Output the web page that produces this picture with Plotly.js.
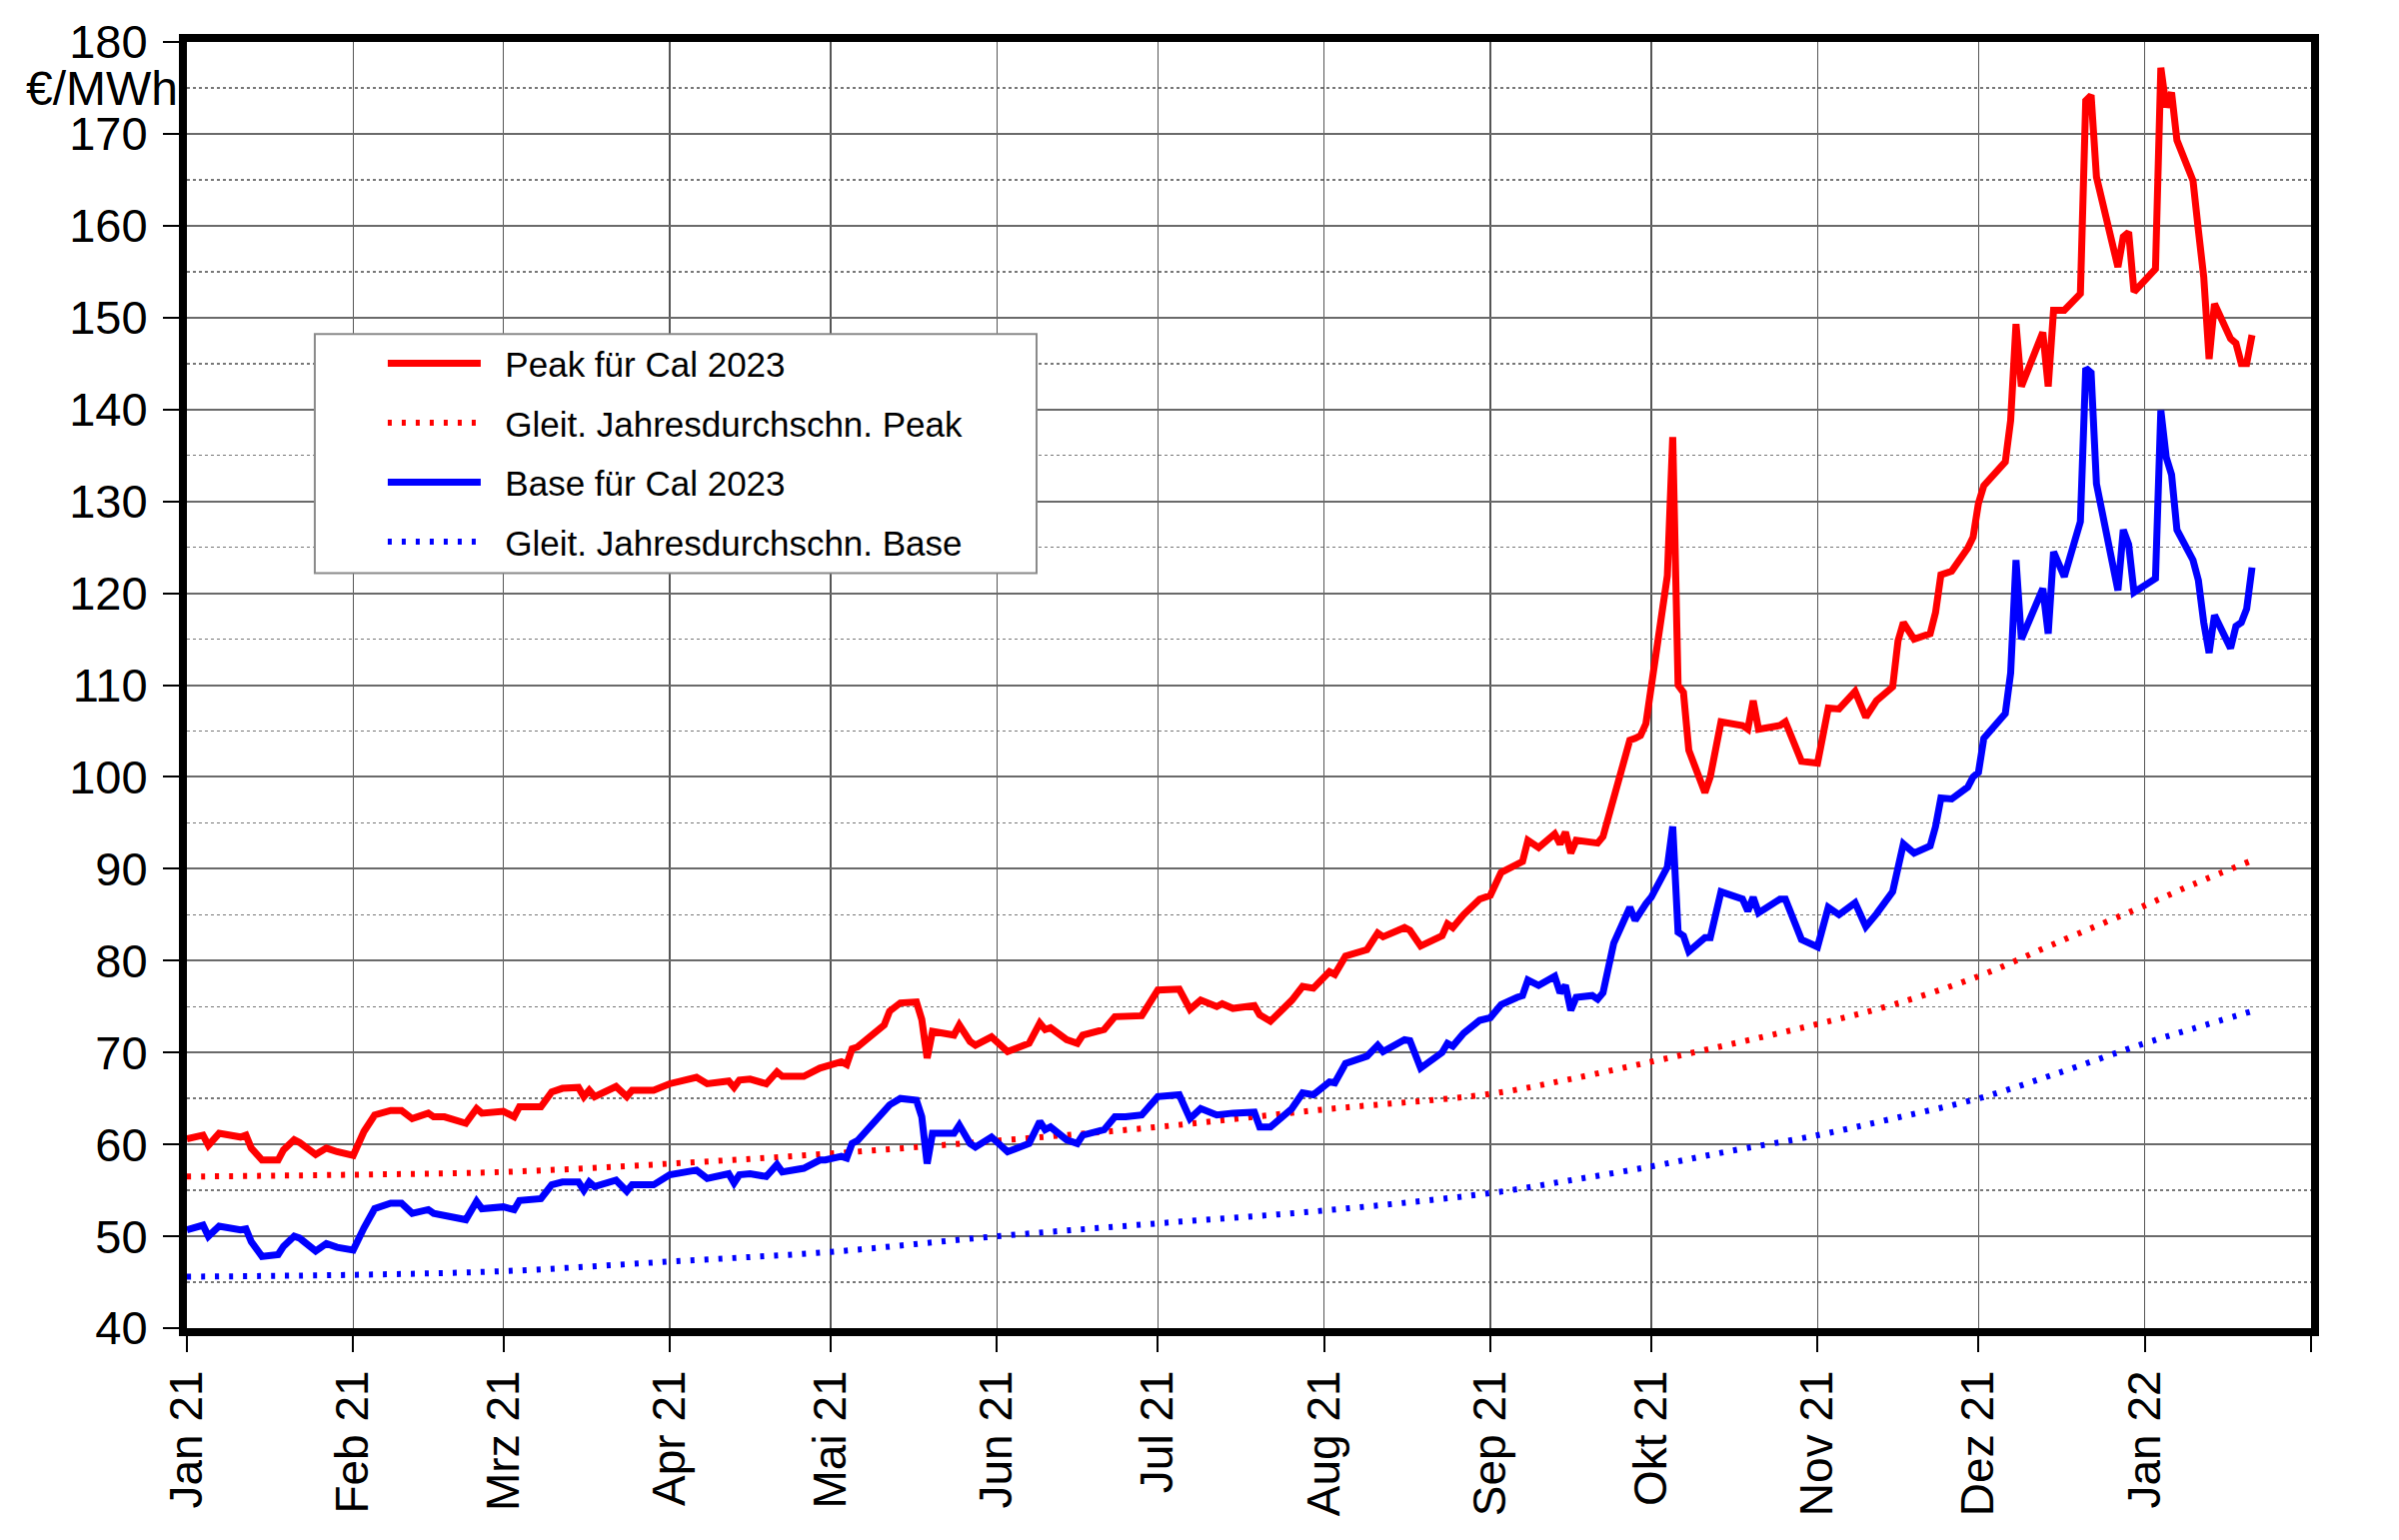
<!DOCTYPE html>
<html>
<head>
<meta charset="utf-8">
<script src="https://cdn.plot.ly/plotly-3.0.1.min.js"></script>
<style>
  html, body { margin: 0; padding: 0; background: #fff; }
  #chart { width: 2400px; height: 1541px; }
</style>
</head>
<body>
<div id="chart"></div>
<script>
// trading days
const dates = [
  '2021-01-01','2021-01-04','2021-01-05','2021-01-07','2021-01-11','2021-01-12','2021-01-13','2021-01-15',
  '2021-01-18','2021-01-19','2021-01-21','2021-01-22','2021-01-25','2021-01-27','2021-01-29','2021-02-01',
  '2021-02-03','2021-02-05','2021-02-08','2021-02-10','2021-02-12','2021-02-15','2021-02-16','2021-02-18',
  '2021-02-22','2021-02-24','2021-02-25','2021-03-01','2021-03-03','2021-03-04','2021-03-08','2021-03-10',
  '2021-03-12','2021-03-15','2021-03-16','2021-03-17','2021-03-18','2021-03-22','2021-03-24','2021-03-25',
  '2021-03-29','2021-04-01','2021-04-06','2021-04-08','2021-04-12','2021-04-13','2021-04-14','2021-04-16',
  '2021-04-19','2021-04-21','2021-04-22','2021-04-26','2021-04-29','2021-04-30','2021-05-03','2021-05-04',
  '2021-05-05','2021-05-06','2021-05-10','2021-05-11','2021-05-12','2021-05-14','2021-05-17','2021-05-18',
  '2021-05-19','2021-05-20','2021-05-24','2021-05-25','2021-05-27','2021-05-28','2021-05-31','2021-06-03',
  '2021-06-07','2021-06-09','2021-06-10','2021-06-11','2021-06-14','2021-06-16','2021-06-17','2021-06-21',
  '2021-06-23','2021-06-25','2021-06-28','2021-07-01','2021-07-05','2021-07-07','2021-07-09','2021-07-12',
  '2021-07-13','2021-07-15','2021-07-19','2021-07-20','2021-07-22','2021-07-26','2021-07-28','2021-07-30',
  '2021-08-02','2021-08-03','2021-08-05','2021-08-09','2021-08-11','2021-08-12','2021-08-16','2021-08-17',
  '2021-08-19','2021-08-23','2021-08-24','2021-08-25','2021-08-27','2021-08-30','2021-09-01','2021-09-03',
  '2021-09-06','2021-09-07','2021-09-08','2021-09-10','2021-09-13','2021-09-14','2021-09-15','2021-09-16',
  '2021-09-17','2021-09-20','2021-09-21','2021-09-22','2021-09-24','2021-09-27','2021-09-28','2021-09-29',
  '2021-09-30','2021-10-01','2021-10-04','2021-10-05','2021-10-06','2021-10-07','2021-10-08','2021-10-11',
  '2021-10-12','2021-10-14','2021-10-18','2021-10-19','2021-10-20','2021-10-21','2021-10-25','2021-10-26',
  '2021-10-29','2021-11-01','2021-11-03','2021-11-05','2021-11-08','2021-11-10','2021-11-12','2021-11-15',
  '2021-11-16','2021-11-17','2021-11-19','2021-11-22','2021-11-23','2021-11-24','2021-11-26','2021-11-29',
  '2021-11-30','2021-12-01','2021-12-02','2021-12-06','2021-12-07','2021-12-08','2021-12-09','2021-12-13',
  '2021-12-14','2021-12-15','2021-12-17','2021-12-20','2021-12-21','2021-12-22','2021-12-23','2021-12-27',
  '2021-12-28','2021-12-29','2021-12-30','2022-01-03','2022-01-04','2022-01-05','2022-01-06','2022-01-07',
  '2022-01-10','2022-01-11','2022-01-12','2022-01-13','2022-01-14','2022-01-17','2022-01-18','2022-01-19',
  '2022-01-20','2022-01-21'
];

const peak = [
  60.6, 61.0, 59.9, 61.2, 60.8, 61.0, 59.6, 58.3,
  58.3, 59.4, 60.5, 60.2, 58.9, 59.6, 59.2, 58.8,
  61.4, 63.2, 63.7, 63.7, 62.8, 63.4, 63.0, 63.0,
  62.3, 63.9, 63.4, 63.6, 63.0, 64.1, 64.1, 65.7,
  66.1, 66.2, 65.2, 65.9, 65.2, 66.3, 65.2, 65.9,
  65.9, 66.6, 67.3, 66.6, 66.9, 66.2, 67.0, 67.1,
  66.6, 67.9, 67.4, 67.4, 68.3, 68.5, 69.0, 68.7,
  70.4, 70.6, 72.7, 73.0, 74.5, 75.4, 75.5, 73.6,
  69.4, 72.3, 71.9, 73.0, 71.2, 70.8, 71.7, 70.1,
  71.0, 73.2, 72.5, 72.7, 71.4, 71.0, 71.9, 72.5,
  73.9, 73.9, 74.0, 76.8, 76.9, 74.7, 75.7, 75.0,
  75.3, 74.8, 75.1, 74.1, 73.4, 75.7, 77.2, 77.0,
  78.8, 78.5, 80.5, 81.2, 83.0, 82.6, 83.6, 83.3,
  81.6, 82.7, 84.0, 83.6, 85.0, 86.7, 87.1, 89.6,
  90.6, 90.8, 93.1, 92.3, 93.8, 92.7, 94.0, 91.7,
  93.1, 92.9, 92.8, 93.5, 97.9, 104.0, 104.2, 104.5,
  105.8, 109.8, 121.9, 137.0, 110.0, 109.2, 102.9, 98.3,
  100.0, 106.0, 105.6, 105.2, 108.3, 105.2, 105.6, 106.0,
  101.7, 101.5, 107.5, 107.4, 109.3, 106.5, 108.3, 109.8,
  114.8, 116.8, 115.0, 115.6, 117.9, 122.0, 122.4, 124.9,
  126.1, 129.8, 131.7, 134.3, 138.8, 149.3, 142.5, 148.4,
  142.5, 150.8, 150.8, 152.6, 173.6, 174.2, 165.3, 155.5,
  158.8, 159.3, 152.8, 155.3, 177.2, 172.9, 174.5, 169.3,
  164.9, 159.5, 154.4, 145.5, 151.5, 147.7, 147.2, 145.0,
  145.0, 148.1
];

const base = [
  50.7, 51.2, 50.0, 51.1, 50.7, 50.8, 49.4, 47.8,
  48.0, 48.9, 50.0, 49.8, 48.4, 49.2, 48.8, 48.5,
  50.9, 53.0, 53.6, 53.6, 52.5, 52.9, 52.5, 52.3,
  51.8, 53.8, 53.0, 53.2, 52.9, 53.9, 54.1, 55.6,
  55.9, 55.9, 55.0, 55.9, 55.4, 56.1, 54.9, 55.6,
  55.6, 56.7, 57.2, 56.3, 56.8, 55.8, 56.7, 56.8,
  56.5, 57.8, 57.0, 57.4, 58.3, 58.3, 58.7, 58.5,
  60.1, 60.4, 63.0, 63.7, 64.3, 65.0, 64.8, 63.0,
  57.9, 61.2, 61.2, 62.1, 60.1, 59.7, 60.8, 59.2,
  60.1, 62.5, 61.6, 61.9, 60.5, 60.1, 61.0, 61.6,
  63.0, 63.0, 63.2, 65.2, 65.4, 62.8, 63.9, 63.2,
  63.3, 63.4, 63.5, 61.9, 61.9, 63.9, 65.6, 65.4,
  66.8, 66.7, 68.8, 69.6, 70.8, 70.1, 71.4, 71.3,
  68.3, 70.0, 71.0, 70.7, 72.1, 73.5, 73.8, 75.2,
  76.0, 76.2, 77.9, 77.3, 78.3, 76.5, 77.3, 74.6,
  76.0, 76.2, 75.8, 76.5, 81.9, 85.8, 84.4, 85.5,
  86.2, 86.9, 90.2, 94.6, 83.1, 82.7, 81.0, 82.5,
  82.5, 87.5, 86.7, 85.4, 86.9, 85.2, 86.7, 86.7,
  82.3, 81.5, 85.8, 85.0, 86.3, 83.7, 85.1, 87.5,
  90.6, 92.7, 91.7, 92.5, 94.6, 97.7, 97.6, 98.9,
  100.0, 100.5, 104.2, 106.9, 111.3, 123.6, 115.0, 120.5,
  115.6, 124.5, 121.8, 127.8, 144.5, 144.0, 131.9, 120.3,
  126.9, 125.3, 120.1, 121.6, 139.9, 134.8, 132.9, 126.9,
  123.6, 121.4, 116.8, 113.5, 117.6, 114.0, 116.4, 116.8,
  118.3, 122.8
];

// gleitender Jahresdurchschnitt, read at a few dates
const maDates = [
  '2021-01-01','2021-02-01','2021-03-01','2021-04-01','2021-05-01','2021-06-01','2021-07-01',
  '2021-08-01','2021-09-01','2021-09-15','2021-10-01','2021-10-15','2021-11-01','2021-11-15',
  '2021-12-01','2021-12-15','2022-01-01','2022-01-10','2022-01-21'
];
const maPeak = [
  56.5, 56.7, 57.0, 57.9, 59.0, 60.4, 61.9,
  63.8, 65.5, 67.0, 69.0, 70.8, 73.1, 75.2,
  78.3, 81.8, 86.0, 88.3, 90.9
];
const maBase = [
  45.6, 45.8, 46.2, 47.25, 48.3, 50.0, 51.4,
  52.8, 54.7, 56.0, 57.6, 59.2, 61.0, 62.8,
  65.0, 67.6, 71.0, 72.6, 74.5
];

const monthTicks = [
  '2021-01-01','2021-02-01','2021-03-01','2021-04-01','2021-05-01','2021-06-01','2021-07-01',
  '2021-08-01','2021-09-01','2021-10-01','2021-11-01','2021-12-01','2022-01-01','2022-02-01'
];
const monthLabels = [
  'Jan 21','Feb 21','Mrz 21','Apr 21','Mai 21','Jun 21','Jul 21',
  'Aug 21','Sep 21','Okt 21','Nov 21','Dez 21','Jan 22',''
];

const names = ['Peak für Cal 2023', 'Gleit. Jahresdurchschn. Peak', 'Base für Cal 2023', 'Gleit. Jahresdurchschn. Base'];

// small gap between legend line and legend text
const pad = '\u00A0\u00A0';
const dotDash = '4px,10px';

let traces = [
  {x: dates, y: peak, name: pad + names[0], legendgroup: 'a', type: 'scatter', mode: 'lines',
   line: {color: '#ff0000', width: 7}},
  {x: maDates, y: maPeak, name: pad + names[1], legendgroup: 'b', type: 'scatter', mode: 'lines',
   line: {color: '#ff0000', width: 6, dash: dotDash, shape: 'spline'}},
  {x: dates, y: base, name: pad + names[2], legendgroup: 'c', type: 'scatter', mode: 'lines',
   line: {color: '#0000ff', width: 7}},
  {x: maDates, y: maBase, name: pad + names[3], legendgroup: 'd', type: 'scatter', mode: 'lines',
   line: {color: '#0000ff', width: 6, dash: dotDash, shape: 'spline'}}
];

let layout = {
  width: 2400,
  height: 1541,
  margin: {l: 187, r: 88, t: 42, b: 212},
  paper_bgcolor: '#ffffff',
  plot_bgcolor: '#ffffff',
  font: {family: 'Liberation Sans, Arial, sans-serif', size: 46, color: '#000'},
  showlegend: true,
  legend: {
    x: 0.0922, y: 0.773, xanchor: 'left', yanchor: 'top',
    bgcolor: 'rgba(0,0,0,0)', borderwidth: 0,
    font: {size: 35, color: '#000'},
    itemwidth: 93, tracegroupgap: 11
  },
  // legend frame
  shapes: [{
    type: 'rect', xref: 'paper', yref: 'paper',
    x0: 0.0602, x1: 0.4, y0: 0.587, y1: 0.773,
    fillcolor: '#ffffff', line: {color: '#8a8a8a', width: 2}, layer: 'above'
  }],
  xaxis: {
    type: 'date',
    range: ['2021-01-01', '2022-02-01'],
    tickmode: 'array',
    tickvals: monthTicks,
    ticktext: monthLabels,
    tickangle: -90,
    ticks: 'outside', ticklen: 16, tickwidth: 2, tickcolor: '#000',
    showgrid: true, gridcolor: '#555555', gridwidth: 1.5,
    showline: true, linecolor: '#000', linewidth: 8, mirror: true,
    zeroline: false,
    tickfont: {size: 46}
  },
  yaxis: {
    range: [40, 180],
    tickmode: 'linear', tick0: 40, dtick: 10,
    ticks: 'outside', ticklen: 16, tickwidth: 2, tickcolor: '#000',
    ticklabelstandoff: 6,
    showgrid: true, gridcolor: '#6a6a6a', gridwidth: 2,
    minor: {dtick: 5, showgrid: true, gridcolor: '#777777', gridwidth: 1.5, griddash: 'dot', ticks: ''},
    showline: true, linecolor: '#000', linewidth: 8, mirror: true,
    zeroline: false,
    tickfont: {size: 47}
  },
  annotations: [{
    text: '€/MWh', xref: 'paper', yref: 'paper', x: -0.004, y: 0.9645,
    xanchor: 'right', yanchor: 'middle', showarrow: false,
    height: 40, valign: 'middle', borderpad: 0,
    font: {size: 48, color: '#000'}
  }]
};

Plotly.newPlot('chart', traces, layout, {displayModeBar: false, staticPlot: true});
</script>
</body>
</html>
